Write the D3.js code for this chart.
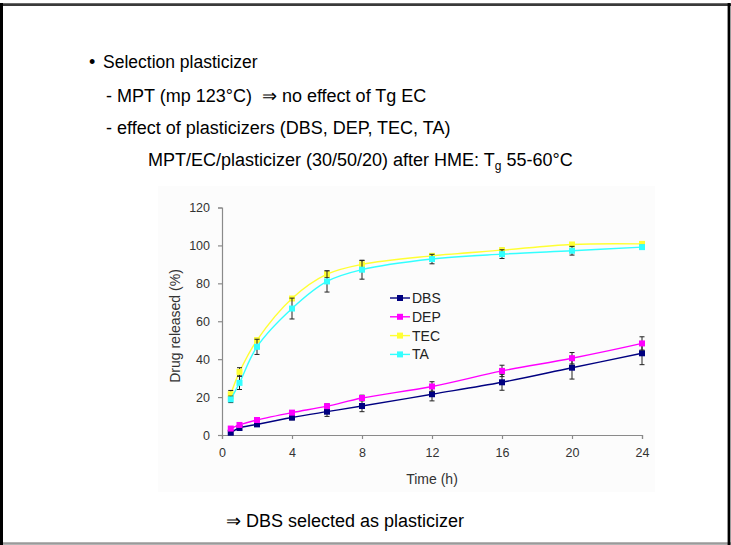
<!DOCTYPE html>
<html>
<head>
<meta charset="utf-8">
<script src="https://cdn.jsdelivr.net/npm/d3@7"></script>
<style>
  html, body { margin: 0; padding: 0; background: #fff; }
  svg { display: block; }
  text { font-family: "Liberation Sans", Arial, sans-serif; }
</style>
</head>
<body>
<svg id="slide" width="731" height="545"></svg>
<script>
// Release time points (h)
const times = [0.5, 1, 2, 4, 6, 8, 12, 16, 20, 24];

// Mean drug released (%) per plasticizer
const dbs = [1.2, 3.7, 5.6, 9.2, 12.3, 15.3, 21.5, 27.8, 35.5, 43.1];
const dep = [3.4, 5.3, 7.9, 11.8, 15.2, 19.5, 25.6, 33.8, 40.5, 48.3];
const tec = [21.5, 33.3, 50, 72, 84.8, 90, 94.5, 97.5, 100.5, 100.8];
const ta  = [18.8, 27.5, 46.5, 66.7, 81, 87.2, 92.8, 95.4, 97.2, 99.1];

// Standard deviations (%)
const dbsSd = [0.8, 1, 1, 1.2, 2.5, 3, 3.5, 4.2, 6, 6];
const depSd = [0.8, 1, 1, 1, 1.2, 1.5, 2.5, 3, 3, 3.5];
const tecSd = [2, 2.2, 1, 1, 1.7, 2, 1, 1, 1, 1];
const taSd  = [1.7, 3.5, 4, 5.5, 5.6, 5, 2.5, 2.3, 2.3, 1];

const seriesNames = ["DBS", "DEP", "TEC", "TA"];
const seriesColors = ["#000080", "#ff00ff", "#ffff33", "#33ffff"];

const xTicks = [0, 4, 8, 12, 16, 20, 24];
const yTicks = [0, 20, 40, 60, 80, 100, 120];

const series = [
  { name: seriesNames[0], color: seriesColors[0], mean: dbs, sd: dbsSd },
  { name: seriesNames[1], color: seriesColors[1], mean: dep, sd: depSd },
  { name: seriesNames[2], color: seriesColors[2], mean: tec, sd: tecSd },
  { name: seriesNames[3], color: seriesColors[3], mean: ta,  sd: taSd }
];

const svg = d3.select("#slide");

// Slide frame
svg.append("rect").attr("x", 0).attr("y", 0).attr("width", 731).attr("height", 545).attr("fill", "#fff");
svg.append("line").attr("x1", 0).attr("x2", 731).attr("y1", 4.6).attr("y2", 4.6)
  .attr("stroke", "#3a3a3a").attr("stroke-width", 2.6);
svg.append("line").attr("x1", 0).attr("x2", 731).attr("y1", 543.5).attr("y2", 543.5)
  .attr("stroke", "#9a9a9a").attr("stroke-width", 2.4);
svg.append("line").attr("x1", 1.5).attr("x2", 1.5).attr("y1", 3).attr("y2", 545)
  .attr("stroke", "#000").attr("stroke-width", 3);
svg.append("line").attr("x1", 729).attr("x2", 729).attr("y1", 3).attr("y2", 545)
  .attr("stroke", "#000").attr("stroke-width", 2.8);

// Bullet text
const body = svg.append("g").attr("fill", "#000").style("font-size", "18px");
body.append("text").attr("x", 89).attr("y", 68).text("\u2022");
body.append("text").attr("x", 103).attr("y", 68).style("font-size", "17.5px").text("Selection plasticizer");
body.append("text").attr("x", 106).attr("y", 102).style("white-space", "pre")
  .text("- MPT (mp 123\u00b0C)  \u21d2 no effect of Tg EC");
body.append("text").attr("x", 106).attr("y", 134)
  .text("- effect of plasticizers (DBS, DEP, TEC, TA)");
const l4 = body.append("text").attr("x", 148).attr("y", 166);
l4.append("tspan").text("MPT/EC/plasticizer (30/50/20) after HME: T");
l4.append("tspan").attr("dy", 4).style("font-size", "12px").text("g");
l4.append("tspan").attr("dy", -4).text(" 55-60\u00b0C");

svg.append("text").attr("x", 226).attr("y", 527).style("font-size", "18px")
  .text("\u21d2 DBS selected as plasticizer");

// Chart panel
svg.append("rect").attr("x", 158).attr("y", 186).attr("width", 497).attr("height", 306)
  .attr("fill", "#fcfcfc");

const x = d3.scaleLinear().domain([0, 24]).range([222, 642]);
const y = d3.scaleLinear().domain([0, 120]).range([435, 207.5]);

const axisColor = "#8a8a8a";

const gx = svg.append("g").attr("transform", `translate(0,${y(0)})`)
  .call(d3.axisBottom(x).tickValues(xTicks).tickSize(4).tickPadding(9));
const gy = svg.append("g").attr("transform", `translate(${x(0)},0)`)
  .call(d3.axisLeft(y).tickValues(yTicks).tickSize(4).tickPadding(8));
[gx, gy].forEach(g => {
  g.select(".domain").attr("stroke", axisColor).attr("stroke-width", 1.2);
  g.selectAll(".tick line").attr("stroke", axisColor).attr("stroke-width", 1.2);
  g.selectAll(".tick text").attr("fill", "#333")
    .style("font-family", "'Liberation Sans', Arial, sans-serif").style("font-size", "12.5px");
});

svg.append("text").attr("x", 432).attr("y", 484).attr("text-anchor", "middle")
  .attr("fill", "#333").style("font-size", "14px").text("Time (h)");
svg.append("text").attr("transform", "translate(180,326) rotate(-90)").attr("text-anchor", "middle")
  .attr("fill", "#333").style("font-size", "14px").text("Drug released (%)");

// Series: smoothed line, error bars, square markers
const line = d3.line()
  .x((d, i) => x(times[i]))
  .y(d => y(d))
  .curve(d3.curveCatmullRom.alpha(0.5));

series.forEach(s => {
  const g = svg.append("g");
  g.append("path").attr("d", line(s.mean)).attr("fill", "none")
    .attr("stroke", s.color).attr("stroke-width", 1.4);
  const eb = g.append("g").attr("stroke", "#222").attr("stroke-width", 1);
  s.mean.forEach((m, i) => {
    const cx = x(times[i]);
    const y1 = y(m + s.sd[i]), y2 = y(m - s.sd[i]);
    eb.append("line").attr("x1", cx).attr("x2", cx).attr("y1", y1).attr("y2", y2);
    eb.append("line").attr("x1", cx - 2.5).attr("x2", cx + 2.5).attr("y1", y1).attr("y2", y1);
    eb.append("line").attr("x1", cx - 2.5).attr("x2", cx + 2.5).attr("y1", y2).attr("y2", y2);
  });
  g.selectAll("rect.m").data(s.mean).enter().append("rect")
    .attr("x", (d, i) => x(times[i]) - 3).attr("y", d => y(d) - 3)
    .attr("width", 6).attr("height", 6).attr("fill", s.color);
});

// Legend
const legend = svg.append("g");
series.forEach((s, i) => {
  const ly = 298 + i * 18.8;
  legend.append("line").attr("x1", 390).attr("x2", 410).attr("y1", ly).attr("y2", ly)
    .attr("stroke", s.color).attr("stroke-width", 1.4);
  legend.append("rect").attr("x", 397).attr("y", ly - 3).attr("width", 6).attr("height", 6)
    .attr("fill", s.color);
  legend.append("text").attr("x", 412).attr("y", ly + 5).attr("fill", "#222")
    .style("font-size", "14px").text(s.name);
});
</script>
</body>
</html>
